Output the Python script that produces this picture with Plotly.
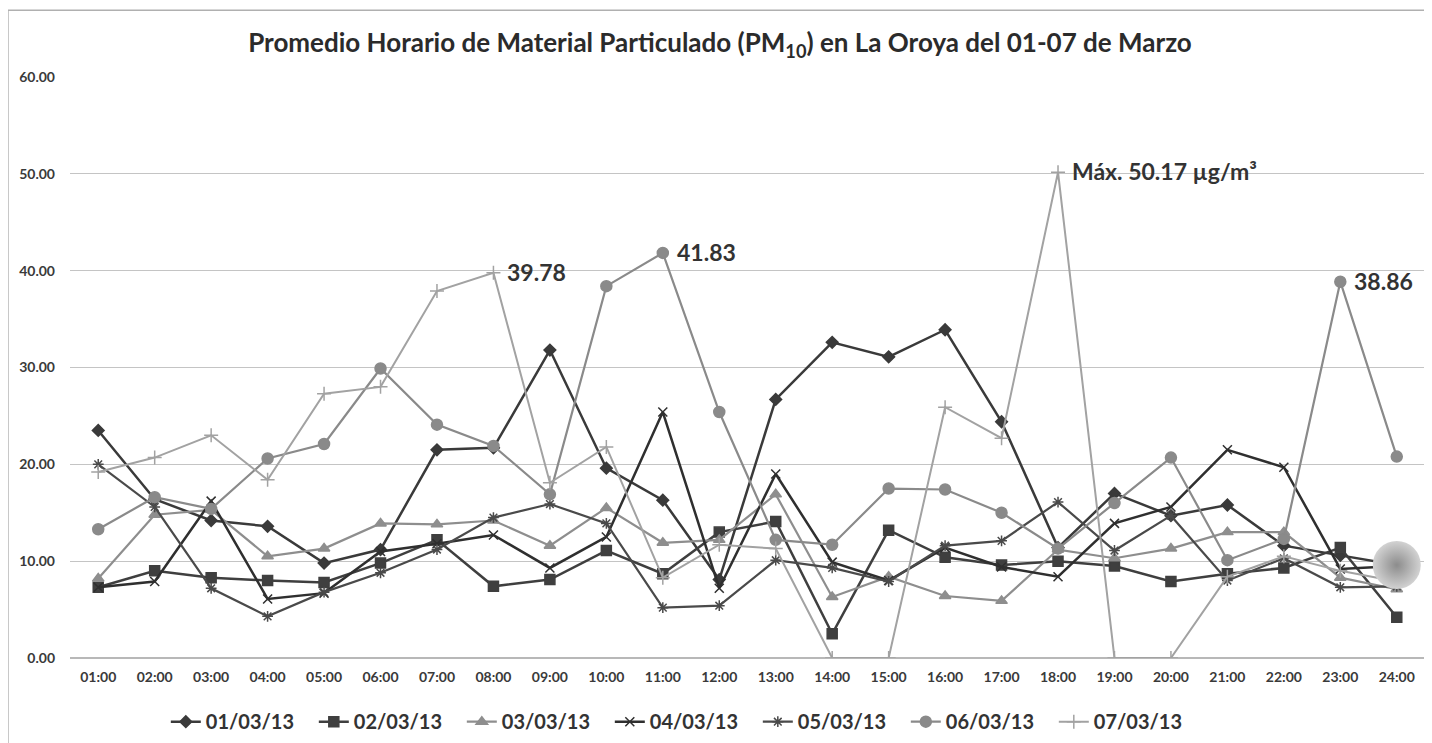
import plotly.graph_objects as go

HOURS = [f"{h:02d}:00" for h in range(1, 25)]

D0103 = [23.5, 16.4, 14.2, 13.6, 9.8, 11.2, 21.5, 21.7, 31.8, 19.6, 16.3, 8.1,
         26.7, 32.6, 31.1, 33.9, 24.4, 11.4, 17.0, 14.7, 15.8, 11.6, 10.6, 9.6]
D0203 = [7.3, 9.0, 8.3, 8.0, 7.8, 9.8, 12.2, 7.4, 8.1, 11.1, 8.7, 13.0,
         14.1, 2.5, 13.2, 10.4, 9.6, 10.0, 9.5, 7.9, 8.7, 9.3, 11.4, 4.2]
D0303 = [8.2, 14.8, 15.3, 10.5, 11.3, 13.9, 13.8, 14.2, 11.6, 15.5, 11.9, 12.2,
         16.9, 6.3, 8.4, 6.4, 5.9, 11.2, 10.3, 11.3, 13.0, 13.0, 8.3, 7.1]
D0403 = [7.3, 7.9, 16.2, 6.1, 6.7, 11.0, 11.8, 12.7, 9.3, 12.5, 25.4, 7.2,
         19.0, 9.9, 8.0, 11.4, 9.4, 8.4, 13.9, 15.6, 21.5, 19.7, 9.2, 9.5]
D0503 = [20.0, 15.6, 7.2, 4.3, 6.8, 8.8, 11.2, 14.5, 15.9, 13.9, 5.2, 5.4,
         10.1, 9.3, 7.9, 11.6, 12.1, 16.1, 11.1, 14.7, 8.0, 10.3, 7.3, 7.4]
D0603 = [13.3, 16.6, 15.4, 20.6, 22.1, 29.9, 24.1, 21.9, 16.9, 38.4, 41.83, 25.4,
         12.2, 11.7, 17.5, 17.4, 15.0, 11.3, 16.0, 20.7, 10.1, 12.3, 38.86, 20.8]
D0703 = [19.2, 20.7, 23.0, 18.4, 27.3, 28.0, 37.9, 39.78, 18.1, 21.8, 8.3, 11.7,
         11.3, 0.0, 0.0, 25.9, 22.7, 50.17, 0.0, 0.0, 8.4, 10.5, 9.0, 7.9]

# highlighted point drawn as a shaded ball
HIGHLIGHT_X = ["24:00"]
HIGHLIGHT_Y = [9.6]

# labelled values: (hour, value, text)
LABELS = [("08:00", 39.78, "39.78"), ("11:00", 41.83, "41.83"),
          ("18:00", 50.17, "Máx. 50.17 µg/m³"), ("23:00", 38.86, "38.86")]

FONT = "Lato, 'Open Sans', sans-serif"

series = [
    ("01/03/13", D0103, "#3a3a3a", "diamond", 9, 2.5),
    ("02/03/13", D0203, "#3f3f3f", "square", 10, 2.5),
    ("03/03/13", D0303, "#8e8e8e", "triangle-up", 10, 2.2),
    ("04/03/13", D0403, "#2f2f2f", "x-thin-open", 9, 2.5),
    ("05/03/13", D0503, "#4a4a4a", "asterisk-open", 9, 2.2),
    ("06/03/13", D0603, "#8a8a8a", "circle", 11, 2.2),
    ("07/03/13", D0703, "#a2a2a2", "cross-thin-open", 10, 2.0),
]

fig = go.Figure()
for name, vals, color, symbol, size, width in series:
    fig.add_trace(go.Scatter(
        x=HOURS, y=vals, name=name, mode="lines+markers",
        line={"color": color, "width": width},
        marker={"symbol": symbol, "size": size, "color": color,
                "line": {"color": color, "width": 1.5}}))

fig.add_trace(go.Scatter(
    x=HIGHLIGHT_X, y=HIGHLIGHT_Y, mode="markers", showlegend=False, hoverinfo="skip",
    marker={"size": 48, "color": "#d2d2d2", "gradient": {"type": "radial", "color": "#8c8c8c"},
            "line": {"width": 0}}))

for hour, val, text in LABELS:
    fig.add_annotation(x=hour, y=val, text=text, showarrow=False, xanchor="left",
                       yanchor="middle", xshift=12, yshift=1,
                       font={"family": FONT, "size": 23, "color": "#333333", "weight": "bold"})

# outer chart frame
fig.add_shape(type="rect", xref="paper", yref="paper", x0=-0.0458, x1=1.0025, y0=-0.3, y1=1.115,
              line={"color": "#b0b0b0", "width": 1.5}, fillcolor="rgba(0,0,0,0)", layer="below")

# the page body keeps an 8px margin, so the figure is sized to fit inside it
fig.update_layout(
    title={"text": "Promedio Horario de Material Particulado (PM<sub>10</sub>) en La Oroya del 01-07 de Marzo",
           "x": 0.5, "xanchor": "center", "y": 0.952, "yanchor": "middle",
           "font": {"family": FONT, "size": 26, "color": "#2b2b2b", "weight": "bold"}},
    width=1424, height=735,
    paper_bgcolor="white", plot_bgcolor="white",
    margin={"l": 62, "r": 7, "t": 69, "b": 85},
    font={"family": FONT, "color": "#3a3a3a"},
    legend={"orientation": "h", "x": 0.453, "xanchor": "center", "yref": "container",
            "y": 0.029, "yanchor": "middle",
            "font": {"family": FONT, "size": 20, "color": "#333333", "weight": "bold"},
            "itemwidth": 30, "entrywidth": 103, "bgcolor": "rgba(0,0,0,0)"},
)
fig.update_xaxes(type="category", range=[-0.5, 23.5], showgrid=False, showline=False, ticks="",
                 ticklabelstandoff=9,
                 tickfont={"family": FONT, "size": 14, "color": "#3a3a3a", "weight": "bold"},
                 fixedrange=True)
fig.update_yaxes(range=[0, 60], dtick=10, tickformat=".2f", showgrid=True, gridcolor="#c4c4c4",
                 gridwidth=1, zeroline=True, zerolinecolor="#b8b8b8", zerolinewidth=1.5,
                 showline=False, ticks="", ticklabelstandoff=14,
                 tickfont={"family": FONT, "size": 14, "color": "#3a3a3a", "weight": "bold"},
                 fixedrange=True)

fig.write_html("out.html")
